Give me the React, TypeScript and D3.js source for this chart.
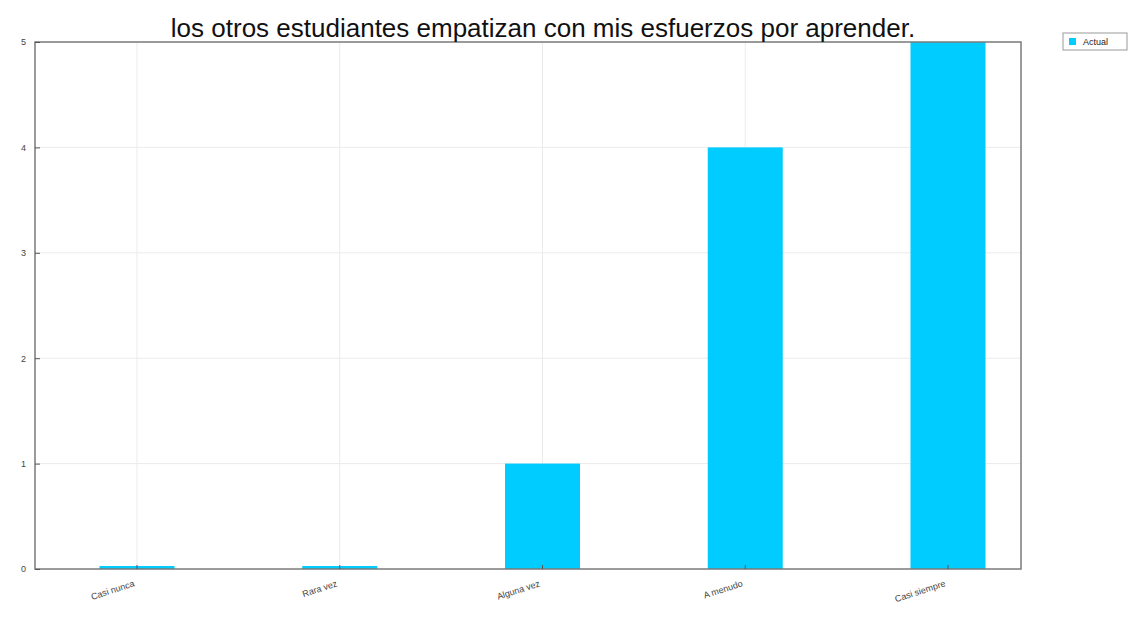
import * as d3 from 'd3';
import { useRef, useEffect } from 'react';

const categories = ['Casi nunca', 'Rara vez', 'Alguna vez', 'A menudo', 'Casi siempre'];
const actualValues = [0, 0, 1, 4, 5];
const yTicks = [0, 1, 2, 3, 4, 5];
const titleText = 'los otros estudiantes empatizan con mis esfuerzos por aprender.';
const seriesName = 'Actual';

const App = () => {
    const svgRef = useRef<SVGSVGElement>(null);

    useEffect(() => {
        if (!svgRef.current) return;
        const svg = d3.select(svgRef.current);
        svg.selectAll('*').remove();

        const W = 1137, H = 621;
        const left = 35, right = 1021, top = 42, bottom = 569;
        const step = 202.75;
        const font = 'Liberation Sans, Arial, sans-serif';

        svg.append('rect').attr('width', W).attr('height', H).attr('fill', '#fff');

        // categories: first center at 137, constant spacing
        const x = d3.scaleBand()
            .domain(categories)
            .range([137 - step / 2, 137 - step / 2 + step * categories.length])
            .paddingInner(0)
            .paddingOuter(0);
        const xc = (c: string) => (x(c) || 0) + x.bandwidth() / 2;
        const barW = 75;

        const y = d3.scaleLinear().domain([0, 5]).range([bottom, top]);

        // grid
        const grid = svg.append('g');
        grid.selectAll('line.v').data(categories).enter().append('line')
            .attr('x1', d => xc(d)).attr('x2', d => xc(d))
            .attr('y1', top).attr('y2', bottom)
            .attr('stroke', '#ebebeb').attr('stroke-width', 1);
        grid.selectAll('line.h').data(yTicks.slice(1, -1)).enter().append('line')
            .attr('x1', left).attr('x2', right)
            .attr('y1', d => y(d)).attr('y2', d => y(d))
            .attr('stroke', '#ebebeb').attr('stroke-width', 1);

        // bars
        svg.append('g').selectAll('rect').data(actualValues).enter().append('rect')
            .attr('x', (_, i) => xc(categories[i]) - barW / 2)
            .attr('width', barW)
            .attr('y', d => Math.min(y(d), bottom - 3))
            .attr('height', d => Math.max(bottom - y(d), 3))
            .attr('fill', '#00ccff');

        // frame
        svg.append('rect')
            .attr('x', left).attr('y', top)
            .attr('width', right - left).attr('height', bottom - top)
            .attr('fill', 'none').attr('stroke', '#7a7a7a').attr('stroke-width', 1.5);

        // y axis
        const yAxis = svg.append('g').attr('transform', `translate(${left},0)`)
            .call(d3.axisRight(y).tickValues(yTicks).tickSize(5).tickFormat(d3.format('d')));
        yAxis.select('.domain').remove();
        yAxis.selectAll('line').attr('stroke', '#555');
        yAxis.selectAll('text')
            .attr('x', -9).attr('text-anchor', 'end')
            .attr('font-family', font).attr('font-size', 9).attr('fill', '#444');

        // x axis
        const xAxis = svg.append('g').attr('transform', `translate(0,${bottom})`)
            .call(d3.axisTop(x).tickSize(4));
        xAxis.select('.domain').remove();
        xAxis.selectAll('line').attr('stroke', '#555');
        xAxis.selectAll('text')
            .attr('y', 0).attr('dy', 0)
            .attr('text-anchor', 'end')
            .attr('transform', 'translate(-2,17) rotate(-18)')
            .attr('font-family', font).attr('font-size', 9).attr('fill', '#444');

        // title
        svg.append('text')
            .attr('x', 543).attr('y', 37)
            .attr('text-anchor', 'middle')
            .attr('font-family', font).attr('font-size', 26).attr('fill', '#111')
            .text(titleText);

        // legend
        const lg = svg.append('g').attr('transform', 'translate(1063,33)');
        lg.append('rect').attr('width', 64).attr('height', 17)
            .attr('fill', '#fff').attr('stroke', '#999').attr('stroke-width', 1);
        lg.append('rect').attr('x', 6).attr('y', 5).attr('width', 7).attr('height', 7).attr('fill', '#00ccff');
        lg.append('text').attr('x', 20).attr('y', 12)
            .attr('font-family', font).attr('font-size', 9).attr('fill', '#222')
            .text(seriesName);
    }, []);

    return (
        <svg ref={svgRef} width={1137} height={621}
            style={{ position: 'absolute', left: 0, top: 0, display: 'block' }} />
    );
};

export default App;
